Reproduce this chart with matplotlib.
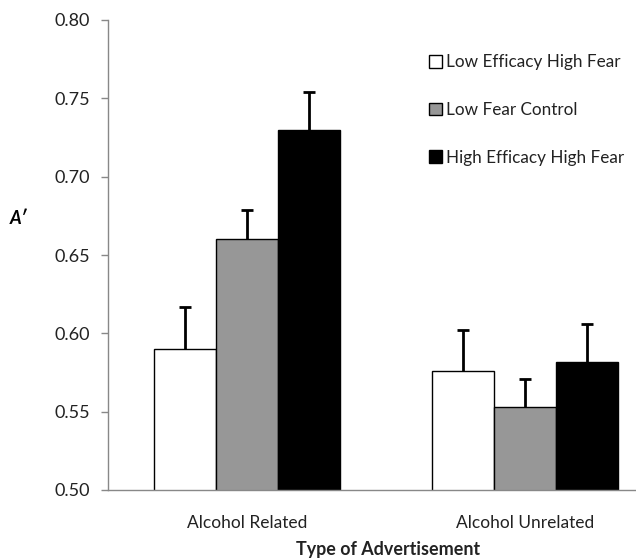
import matplotlib
matplotlib.use("Agg")
import matplotlib.pyplot as plt
import numpy as np

plt.rcParams["font.family"] = ["Lato", "DejaVu Sans"]

categories = ["Alcohol Related", "Alcohol Unrelated"]
series = ["Low Efficacy High Fear", "Low Fear Control", "High Efficacy High Fear"]
means = [
    [0.590, 0.576],  # Low Efficacy High Fear
    [0.660, 0.553],  # Low Fear Control
    [0.730, 0.582],  # High Efficacy High Fear
]
errors = [
    [0.027, 0.026],
    [0.019, 0.018],
    [0.024, 0.024],
]
colors = ["white", "#979797", "black"]
yticks = [0.50, 0.55, 0.60, 0.65, 0.70, 0.75, 0.80]

W, H = 636, 559
fig = plt.figure(figsize=(W / 100, H / 100), dpi=100)
# axes run past the right edge of the figure, as in the original export
ax = fig.add_axes([108 / W, (H - 490) / H, 556 / W, (490 - 20) / H])

x = np.arange(len(categories))
width = 0.223
for i, (name, vals, errs, c) in enumerate(zip(series, means, errors, colors)):
    pos = x + (i - 1) * width
    vals = np.array(vals)
    tops = vals + np.array(errs)
    ax.bar(pos, vals, width, color=c, edgecolor="black", linewidth=1.0,
           label=name, zorder=2)
    # upper-only error bars with a cap at the top
    ax.vlines(pos, vals, tops, color="black", linewidth=2, zorder=3)
    ax.plot(pos, tops, linestyle="none", marker="_", markersize=8,
            markeredgewidth=2, color="black", zorder=3)

ax.set_xlim(-0.5, 1.5)
ax.set_ylim(0.50, 0.80)
ax.set_yticks(yticks)
ax.set_yticklabels([f"{v:.2f}" for v in yticks], fontsize=13, color="#222222")
ax.set_xticks(x)
ax.set_xticklabels(categories, fontsize=12.5, color="#222222")
ax.tick_params(axis="x", length=0, pad=18)
ax.tick_params(axis="y", length=5, width=1, color="#888888", pad=8)

for side in ["top", "right"]:
    ax.spines[side].set_visible(False)
for side in ["left", "bottom"]:
    ax.spines[side].set_color("#888888")
    ax.spines[side].set_linewidth(1)

fig.text(10 / W, 1 - 219 / H, "A\u2032", fontsize=13, fontweight="bold",
         fontstyle="italic", ha="left", va="center")
fig.text(388 / W, 1 - 549 / H, "Type of Advertisement", fontsize=12.9,
         fontweight="bold", ha="center", va="center", color="#222222")

leg = fig.legend(loc="upper left", bbox_to_anchor=(414 / W, 1 - 39 / H),
                 frameon=False, fontsize=12.3, handlelength=0.75,
                 handleheight=0.75, handletextpad=0.25, labelspacing=1.85)
for t in leg.get_texts():
    t.set_color("#222222")

fig.savefig("out.png", dpi=100)
